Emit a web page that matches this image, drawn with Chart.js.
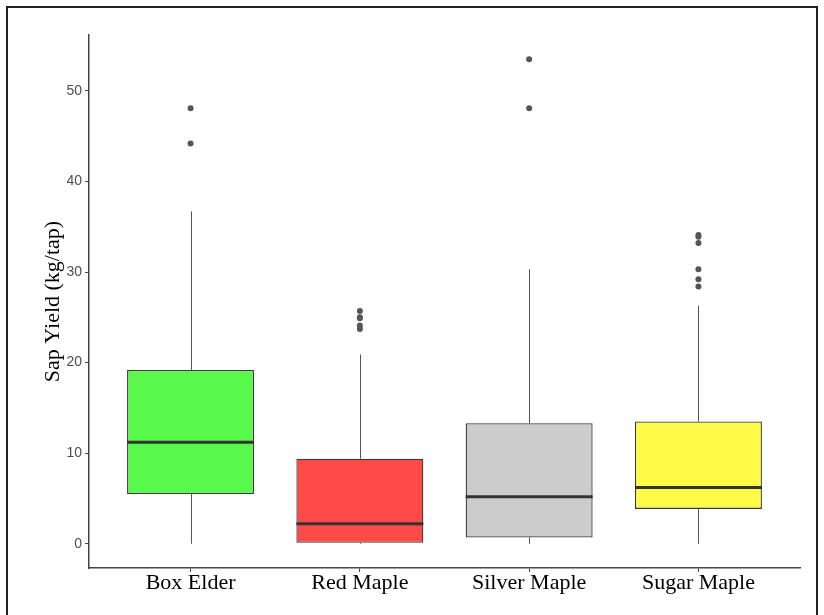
<!DOCTYPE html>
<html>
<head>
<meta charset="utf-8">
<script src="https://cdn.jsdelivr.net/npm/chart.js@4/dist/chart.umd.min.js"></script>
<style>
  html, body { margin: 0; padding: 0; background: #fff; }
  #wrap { position: relative; width: 824px; height: 615px; }
</style>
</head>
<body>
<div id="wrap"><canvas id="chart_sapYield"></canvas></div>
<script>
// species on the x axis
const categories = ['Box Elder', 'Red Maple', 'Silver Maple', 'Sugar Maple'];
// box plot statistics (kg/tap)
const whiskerLow = [0, 0, 0, 0];
const q1 = [5.5, 0.1, 0.7, 3.85];
const median = [11.2, 2.2, 5.2, 6.2];
const q3 = [19.2, 9.4, 13.3, 13.5];
const whiskerHigh = [36.7, 20.9, 30.3, 26.3];
const outliers = [
  [48.1, 44.2],
  [25.7, 25.0, 24.9, 24.1, 23.7],
  [53.5, 48.1],
  [34.1, 33.9, 33.2, 30.3, 29.2, 28.4]
];
const yTicks = [0, 10, 20, 30, 40, 50];
const boxColors = ['#58F94A', '#FF4A47', '#CCCCCC', '#FFFB47'];

const boxData = categories.map((c, i) => ({ x: i + 1, y: [q1[i], q3[i]] }));
const outlierData = [];
outliers.forEach((vals, i) => vals.forEach(v => outlierData.push({ x: i + 1, y: v })));

const whiskerPlugin = {
  id: 'whiskers',
  beforeDraw: (chart) => {
    const ctx = chart.ctx;
    ctx.save();
    ctx.fillStyle = 'white';
    ctx.fillRect(0, 0, chart.width, chart.height);
    ctx.restore();
  },
  beforeDatasetsDraw: (chart) => {
    const { ctx, scales: { x, y } } = chart;
    ctx.save();
    ctx.strokeStyle = '#555';
    ctx.lineWidth = 1;
    categories.forEach((c, i) => {
      const px = Math.round(x.getPixelForValue(i + 1)) + 0.5;
      ctx.beginPath();
      ctx.moveTo(px, y.getPixelForValue(whiskerLow[i]));
      ctx.lineTo(px, y.getPixelForValue(q1[i]));
      ctx.moveTo(px, y.getPixelForValue(q3[i]));
      ctx.lineTo(px, y.getPixelForValue(whiskerHigh[i]));
      ctx.stroke();
    });
    ctx.restore();
  },
  afterDatasetsDraw: (chart) => {
    const { ctx, scales: { x, y } } = chart;
    const bars = chart.getDatasetMeta(0).data;
    ctx.save();
    ctx.strokeStyle = '#333';
    ctx.lineWidth = 3;
    categories.forEach((c, i) => {
      const px = x.getPixelForValue(i + 1);
      const half = bars[i].width / 2;
      const py = y.getPixelForValue(median[i]);
      ctx.beginPath();
      ctx.moveTo(px - half, py);
      ctx.lineTo(px + half, py);
      ctx.stroke();
    });
    ctx.restore();
  },
  afterDraw: (chart) => {
    const ctx = chart.ctx;
    ctx.save();
    ctx.strokeStyle = '#222';
    ctx.lineWidth = 2;
    ctx.strokeRect(7, 7, 810, 640);
    ctx.restore();
  }
};

const chart_sapYield = new Chart(document.getElementById('chart_sapYield'), {
  type: 'bar',
  data: {
    datasets: [
      {
        label: 'box',
        data: boxData,
        backgroundColor: boxColors,
        borderColor: '#3a3a3a',
        borderWidth: 1.3,
        borderSkipped: false,
        barPercentage: 0.75,
        categoryPercentage: 1.0,
        order: 2
      },
      {
        type: 'scatter',
        label: 'outliers',
        data: outlierData,
        backgroundColor: '#555',
        borderWidth: 0,
        pointRadius: 3,
        order: 1
      }
    ]
  },
  options: {
    animation: false,
    responsive: true,
    maintainAspectRatio: false,
    layout: { padding: { top: 35, right: 24, left: 0, bottom: 0 } },
    plugins: {
      legend: { display: false },
      tooltip: { enabled: false }
    },
    scales: {
      x: {
        type: 'linear',
        min: 0.4,
        max: 4.6,
        offset: false,
        afterBuildTicks: (scale) => { scale.ticks = categories.map((c, i) => ({ value: i + 1 })); },
        afterFit: (scale) => { scale.height = 47; },
        ticks: {
          callback: (v) => categories[v - 1],
          color: '#000',
          padding: -2,
          maxRotation: 0,
          autoSkip: false,
          font: { family: "'Liberation Serif', 'Times New Roman', serif", size: 22 }
        },
        grid: { display: true, offset: false, drawOnChartArea: false, drawTicks: true, tickLength: 4, color: '#444' },
        border: { display: true, color: '#444', width: 1.5 }
      },
      y: {
        type: 'linear',
        min: -2.675,
        max: 56.175,
        afterBuildTicks: (scale) => { scale.ticks = yTicks.map(v => ({ value: v })); },
        afterFit: (scale) => { scale.width = 89; },
        ticks: {
          color: '#4d4d4d',
          padding: 3,
          font: { family: "'Liberation Sans', Arial, sans-serif", size: 14 }
        },
        grid: { display: true, drawOnChartArea: false, drawTicks: true, tickLength: 4, color: '#444' },
        border: { display: true, color: '#444', width: 1.5 },
        title: {
          display: true,
          text: 'Sap Yield (kg/tap)',
          color: '#000',
          padding: { top: 40, bottom: 0 },
          font: { family: "'Liberation Serif', 'Times New Roman', serif", size: 22 }
        }
      }
    }
  },
  plugins: [whiskerPlugin]
});
</script>
</body>
</html>
